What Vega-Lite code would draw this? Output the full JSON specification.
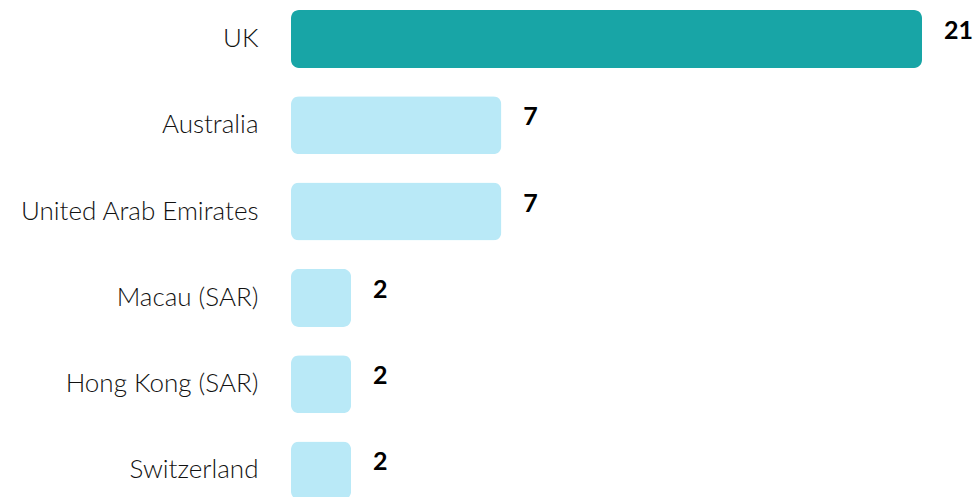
{
  "$schema": "https://vega.github.io/schema/vega-lite/v6.json",
  "autosize": {"type": "none"},
  "width": 631,
  "height": 509.5,
  "padding": {"left": 291, "top": 0, "right": 54, "bottom": 0},
  "background": "white",
  "config": {"view": {"stroke": null}},
  "data": {"values": [
    {"country": "UK", "value": 21, "highlight": "yes"},
    {"country": "Australia", "value": 7, "highlight": "no"},
    {"country": "United Arab Emirates", "value": 7, "highlight": "no"},
    {"country": "Macau (SAR)", "value": 2, "highlight": "no"},
    {"country": "Hong Kong (SAR)", "value": 2, "highlight": "no"},
    {"country": "Switzerland", "value": 2, "highlight": "no"}
  ]},
  "encoding": {
    "y": {
      "field": "country", "type": "nominal", "sort": null,
      "scale": {"paddingInner": 0.328, "paddingOuter": 0.116},
      "axis": {"title": null, "ticks": false, "domain": false, "labelPadding": 33,
               "labelFont": "Lato", "labelFontSize": 26, "labelFontWeight": 300,
               "labelColor": "#111111", "labelLimit": 400, "grid": false}
    },
    "x": {
      "field": "value", "type": "quantitative",
      "scale": {"domain": [0, 21], "nice": false, "zero": true},
      "axis": null
    }
  },
  "layer": [
    {
      "mark": {"type": "bar", "cornerRadius": 8},
      "encoding": {
        "color": {"field": "highlight", "type": "nominal",
                  "scale": {"domain": ["yes", "no"], "range": ["#18a5a6", "#b9e9f7"]},
                  "legend": null}
      }
    },
    {
      "mark": {"type": "text", "align": "left", "baseline": "middle", "dx": 22, "dy": -8,
               "font": "Lato", "fontSize": 25, "fontWeight": "bold", "color": "#000000"},
      "encoding": {"text": {"field": "value", "type": "quantitative"}}
    }
  ]
}
